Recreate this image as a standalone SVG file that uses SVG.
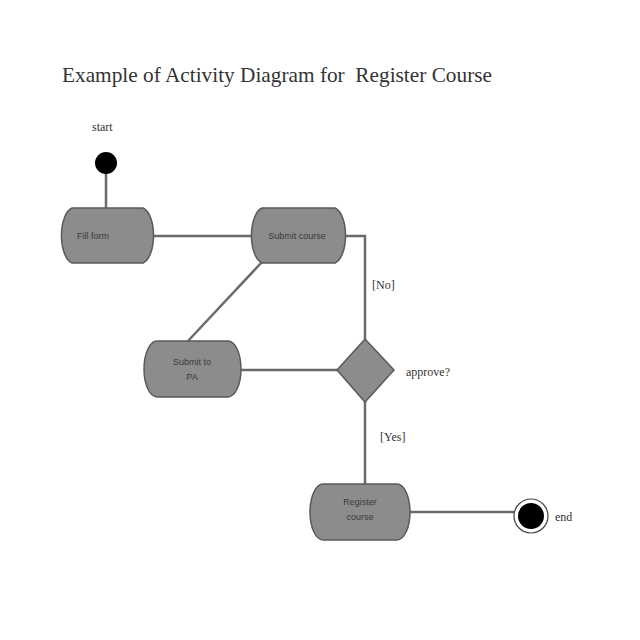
<svg xmlns="http://www.w3.org/2000/svg" width="640" height="640" viewBox="0 0 640 640">
<style>
.node{fill:#8c8c8c;stroke:#5a5a5a;stroke-width:1.5}
.lbl{font-family:"Liberation Sans",Arial,sans-serif;font-size:9px;fill:#3a3a3a;text-anchor:middle}
.note{font-family:"Liberation Serif","Times New Roman",serif;font-size:12px;fill:#333}
.edge{fill:none;stroke:#6a6a6a;stroke-width:2.5}
</style>
<rect width="640" height="640" fill="#ffffff"/>
<text x="62" y="82" xml:space="preserve" textLength="430" lengthAdjust="spacingAndGlyphs" font-family="Liberation Serif,'Times New Roman',serif" font-size="22" fill="#333">Example of Activity Diagram for  Register Course</text>
<g id="connectors">
<line class="edge" x1="106" y1="172" x2="106" y2="208"/>
<line class="edge" x1="154" y1="236" x2="252" y2="236"/>
<polyline class="edge" points="346,236 365,236 365,340"/>
<line class="edge" x1="262" y1="262" x2="188" y2="341"/>
<line class="edge" x1="239" y1="370" x2="338" y2="370"/>
<line class="edge" x1="365" y1="401" x2="365" y2="485"/>
<line class="edge" x1="409" y1="512" x2="514" y2="512"/>
</g>
<g id="start">
<text class="note" x="92" y="131">start</text>
<circle cx="106" cy="163" r="11" fill="#000"/>
</g>
<g id="fill-form">
<path class="node" d="M72,208 H143 A13,28 0 0 1 143,263 H72 A13,28 0 0 1 72,208 Z"/>
<text class="lbl" x="93" y="239">Fill form</text>
</g>
<g id="submit-course">
<path class="node" d="M262,208 H335 A13,28 0 0 1 335,263 H262 A13,28 0 0 1 262,208 Z"/>
<text class="lbl" x="297" y="239">Submit course</text>
</g>
<g id="submit-pa">
<path class="node" d="M157,341 H228 A13,28 0 0 1 228,397 H157 A13,28 0 0 1 157,341 Z"/>
<text class="lbl" x="192" y="365">Submit to</text>
<text class="lbl" x="192" y="380">PA</text>
</g>
<g id="approve">
<polygon class="node" points="365,339 394,370 365,402 337,370"/>
<text class="note" x="406" y="376" font-size="11">approve?</text>
</g>
<text class="note" x="372" y="289">[No]</text>
<text class="note" x="380" y="441">[Yes]</text>
<g id="register-course">
<path class="node" d="M323,484 H397 A13,28 0 0 1 397,540 H323 A13,28 0 0 1 323,484 Z"/>
<text class="lbl" x="360" y="505">Register</text>
<text class="lbl" x="360" y="520">course</text>
</g>
<g id="end">
<circle cx="531" cy="516" r="17" fill="#fff" stroke="#444" stroke-width="1.2"/>
<circle cx="531" cy="516" r="13" fill="#000"/>
<text class="note" x="555" y="521">end</text>
</g>
</svg>
